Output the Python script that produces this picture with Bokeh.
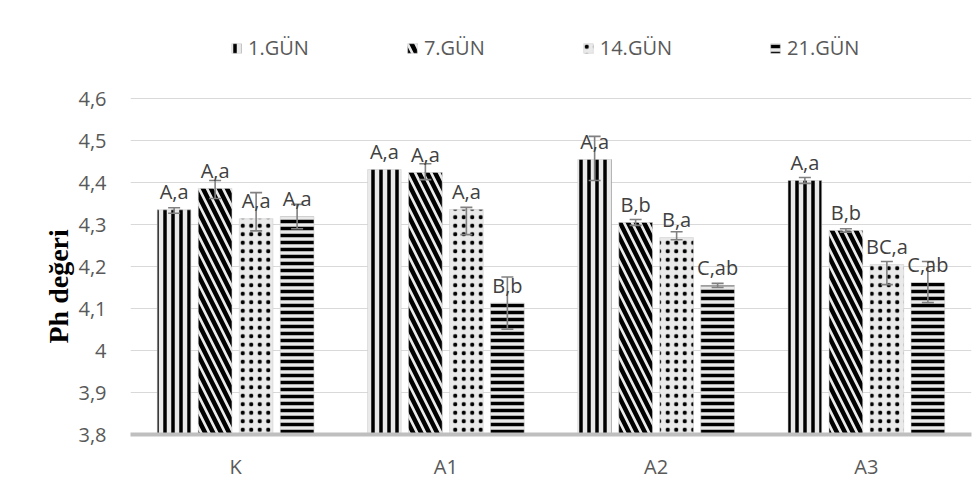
from bokeh.plotting import figure
from bokeh.models import (FactorRange, Range1d, ColumnDataSource, FixedTicker,
                          Legend, LegendItem, Title)
from bokeh.transform import dodge
from bokeh.core.properties import value
from bokeh.embed import file_html
from bokeh.resources import INLINE

# ---------------- data ----------------
groups = ["K", "A1", "A2", "A3"]
series = ["1.GÜN", "7.GÜN", "14.GÜN", "21.GÜN"]

gun1 = [4.335, 4.431, 4.455, 4.405]
gun7 = [4.386, 4.424, 4.305, 4.286]
gun14 = [4.314, 4.336, 4.269, 4.205]
gun21 = [4.319, 4.113, 4.155, 4.162]

up1 = [0.005, 0.0, 0.055, 0.007]
dn1 = [0.008, 0.0, 0.050, 0.007]
up7 = [0.019, 0.021, 0.007, 0.004]
dn7 = [0.024, 0.017, 0.007, 0.004]
up14 = [0.062, 0.005, 0.014, 0.007]
dn14 = [0.029, 0.060, 0.005, 0.048]
up21 = [0.029, 0.062, 0.005, 0.050]
dn21 = [0.029, 0.062, 0.005, 0.048]

lab1 = ["A,a", "A,a", "A,a", "A,a"]
lab7 = ["A,a", "A,a", "B,b", "B,b"]
lab14 = ["A,a", "A,a", "B,a", "BC,a"]
lab21 = ["A,a", "B,b", "C,ab", "C,ab"]

yticks = [3.8, 3.9, 4.0, 4.1, 4.2, 4.3, 4.4, 4.5, 4.6]
ytick_labels = ["3,8", "3,9", "4", "4,1", "4,2", "4,3", "4,4", "4,5", "4,6"]

values_all = [gun1, gun7, gun14, gun21]
ups_all = [up1, up7, up14, up21]
dns_all = [dn1, dn7, dn14, dn21]
labs_all = [lab1, lab7, lab14, lab21]

# ---------------- styles ----------------
hatches = [
    dict(hatch_pattern="vertical_line", hatch_scale=8, hatch_weight=3.5),
    dict(hatch_pattern="left_diagonal_line", hatch_scale=16, hatch_weight=4.5),
    dict(hatch_pattern="dot", hatch_scale=8.5, hatch_weight=4),
    dict(hatch_pattern="horizontal_line", hatch_scale=7, hatch_weight=3.5),
]
step = 0.195
bar_w = 0.16
FONT = "Open Sans"
FS = "20px"

p = figure(x_range=FactorRange(*groups), y_range=Range1d(3.8, 4.786),
           width=972, height=486, output_backend="svg", toolbar_location=None,
           min_border_left=130, min_border_right=1, min_border_top=20,
           min_border_bottom=52)
p.outline_line_color = None
p.background_fill_color = "white"
p.border_fill_color = "white"

renderers = []
for i in range(4):
    off = (i - 1.5) * step
    src = ColumnDataSource(dict(g=groups, v=values_all[i], lab=labs_all[i]))
    r = p.vbar(x=dodge("g", off, range=p.x_range), top="v", bottom=3.8,
               width=bar_w, source=src, fill_color="#eaeaea",
               line_color="#c8c8c8", line_width=0.5, hatch_color="black",
               **hatches[i])
    renderers.append(r)
    # error bars
    eg, ehi, elo = [], [], []
    for g, v, u, d in zip(groups, values_all[i], ups_all[i], dns_all[i]):
        if u == 0 and d == 0:
            continue
        eg.append(g)
        ehi.append(v + u)
        elo.append(v - d)
    esrc = ColumnDataSource(dict(g=eg, hi=ehi, lo=elo))
    xe = dodge("g", off, range=p.x_range)
    p.segment(x0=xe, y0="lo", x1=xe, y1="hi", source=esrc,
              line_color="#808080", line_width=1.6)
    p.scatter(x=xe, y="hi", source=esrc, marker="dash", size=12,
              line_color="#808080", line_width=1.6)
    p.scatter(x=xe, y="lo", source=esrc, marker="dash", size=12,
              line_color="#808080", line_width=1.6)
    # data labels
    p.text(x=dodge("g", off, range=p.x_range), y="v", text="lab", source=src,
           text_align="center", text_baseline="alphabetic", y_offset=-18,
           text_font=value(FONT), text_font_size=FS, text_color="#404040")

# axes
p.yaxis.ticker = FixedTicker(ticks=yticks)
p.yaxis.major_label_overrides = {t: l for t, l in zip(yticks, ytick_labels)}
p.yaxis.axis_line_color = None
p.yaxis.major_tick_line_color = None
p.yaxis.minor_tick_line_color = None
p.yaxis.major_label_standoff = 18
p.yaxis.major_label_text_font = FONT
p.yaxis.major_label_text_font_size = FS
p.yaxis.major_label_text_color = "#595959"

p.xaxis.axis_line_color = "#bfbfbf"
p.xaxis.axis_line_width = 4
p.xaxis.major_tick_line_color = None
p.xaxis.minor_tick_line_color = None
p.xaxis.major_label_standoff = 12
p.xaxis.major_label_text_font = FONT
p.xaxis.major_label_text_font_size = FS
p.xaxis.major_label_text_color = "#595959"

p.xgrid.grid_line_color = None
p.ygrid.grid_line_color = "#d9d9d9"
p.ygrid.grid_line_width = 1

ytitle = Title(text="Ph değeri", align="left", offset=91, standoff=4,
               text_font="Liberation Serif", text_font_size="28px",
               text_font_style="bold", text_color="black")
p.add_layout(ytitle, "left")

legend = Legend(items=[LegendItem(label=s, renderers=[r]) for s, r in zip(series, renderers)],
                orientation="horizontal", location=(100, 373), spacing=97,
                label_standoff=6, glyph_width=12, glyph_height=12, padding=0,
                margin=0, border_line_color=None, background_fill_alpha=0,
                label_text_font=FONT, label_text_font_size=FS,
                label_text_color="#595959")
p.add_layout(legend)

open("out.html", "w").write(file_html(p, INLINE))
